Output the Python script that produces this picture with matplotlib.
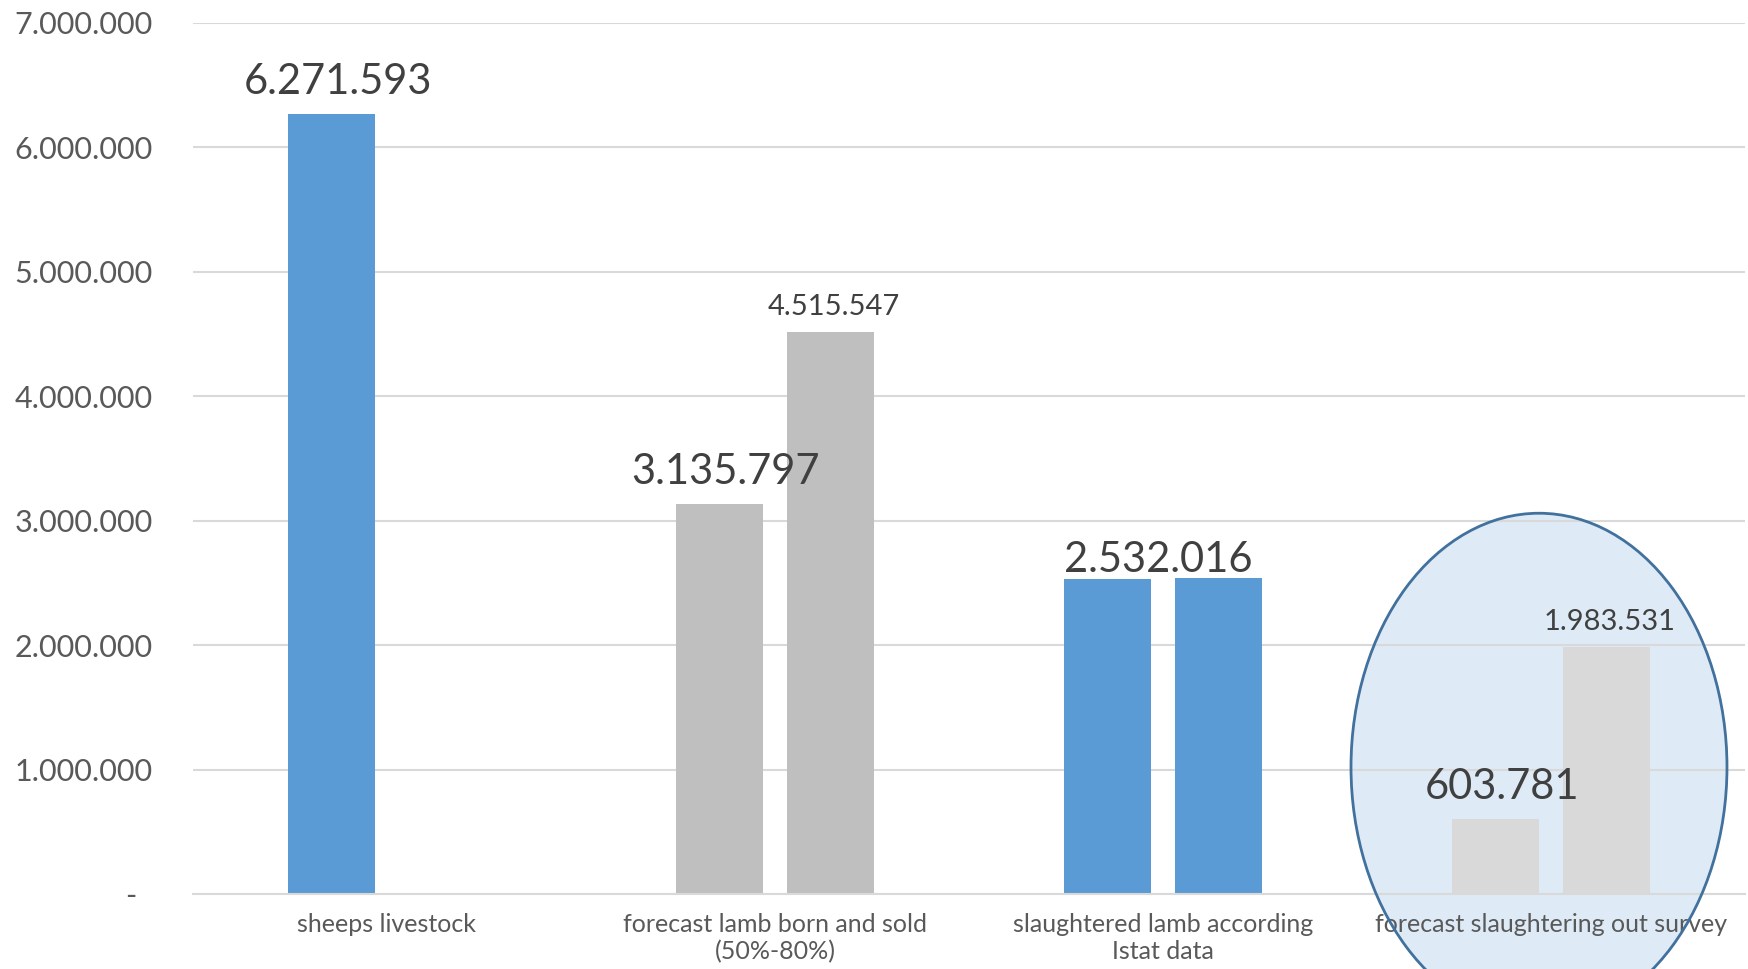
import matplotlib.pyplot as plt
from matplotlib.patches import Ellipse
from matplotlib.ticker import FuncFormatter

# data
categories = ['sheeps livestock', 'forecast lamb born and sold\n(50%-80%)',
              'slaughtered lamb according\nIstat data', 'forecast slaughtering out survey']
first_bar = [6271593, 3135797, 2532016, 603781]
second_bar = [None, 4515547, 2540000, 1983531]
first_colors = ['#5B9BD5', '#BFBFBF', '#5B9BD5', '#D9D9D9']
second_colors = ['#5B9BD5', '#BFBFBF', '#5B9BD5', '#D9D9D9']
# which value labels show
first_label = [True, True, True, True]
second_label = [False, True, False, True]

plt.rcParams['font.family'] = ['Lato', 'DejaVu Sans']

fig = plt.figure(figsize=(17.48, 9.69), dpi=100)
ax = fig.add_axes([0.1104, 0.0774, 0.8879, 0.8989])

width = 0.224
off = 0.142
x = list(range(len(categories)))

for i in x:
    ax.bar(i - off, first_bar[i], width, color=first_colors[i], zorder=2)
    if second_bar[i] is not None:
        ax.bar(i + off, second_bar[i], width, color=second_colors[i], zorder=2)

def fmt(v):
    return f'{v:,.0f}'.replace(',', '.')

# value labels (the third one sits centred over the pair, low)
for i in x:
    if first_label[i]:
        if i == 2:
            lx, dy = i - 0.012, 0
        else:
            lx, dy = i - off + 0.015, 9
        ax.annotate(fmt(first_bar[i]), (lx, first_bar[i]), xytext=(0, dy),
                    textcoords='offset points', ha='center', va='bottom',
                    fontsize=30, color='#404040', zorder=4)
    if second_label[i]:
        ax.annotate(fmt(second_bar[i]), (i + off + 0.01, second_bar[i]), xytext=(0, 9),
                    textcoords='offset points', ha='center', va='bottom',
                    fontsize=21, color='#404040', zorder=4)

ax.set_xlim(-0.5, 3.5)
ax.set_ylim(0, 7000000)
ax.set_yticks(range(0, 7000001, 1000000))
ax.yaxis.set_major_formatter(FuncFormatter(lambda v, p: '-  ' if v == 0 else fmt(v)))
ax.set_xticks(x)
ax.set_xticklabels(categories, fontsize=18, color='#595959', linespacing=1.2)
ax.tick_params(axis='y', length=0, pad=29, labelsize=22, labelcolor='#595959')
ax.tick_params(axis='x', length=0, pad=14)

ax.grid(axis='y', color='#D9D9D9', linewidth=1.5)
ax.set_axisbelow(True)
for s in ['top', 'right', 'left']:
    ax.spines[s].set_visible(False)
ax.spines['bottom'].set_color('#D9D9D9')
ax.spines['bottom'].set_linewidth(1.5)

# highlight ellipse round the last group
ax.add_patch(Ellipse((2.969, 1020000), 0.969, 4080000, facecolor='#DEEBF7',
                     edgecolor='none', zorder=0.3, clip_on=False))
ax.add_patch(Ellipse((2.969, 1020000), 0.969, 4080000, facecolor='none',
                     edgecolor='#41719C', linewidth=2, zorder=5, clip_on=False))

fig.savefig('out.png', dpi=100)
